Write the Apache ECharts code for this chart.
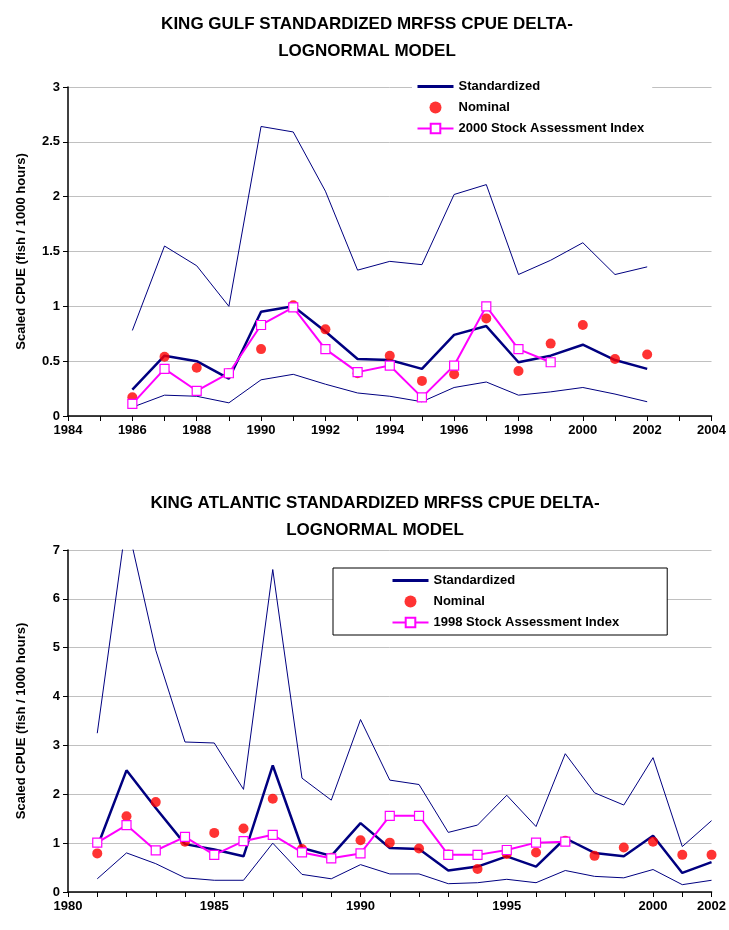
<!DOCTYPE html>
<html>
<head>
<meta charset="utf-8">
<script src="https://cdn.jsdelivr.net/npm/echarts@6/dist/echarts.min.js"></script>
<style>html,body{margin:0;padding:0;background:#fff}#mycharts{width:729px;height:930px}</style>
</head>
<body>
<div id="mycharts"></div>
<script>
// Gulf (top) 1986-2002
var gulfYears = [1986,1987,1988,1989,1990,1991,1992,1993,1994,1995,1996,1997,1998,1999,2000,2001,2002];
var gulfUpper = [0.78,1.55,1.37,1.0,2.64,2.59,2.05,1.33,1.41,1.38,2.02,2.11,1.29,1.42,1.58,1.29,1.36];
var gulfStd = [0.24,0.55,0.50,0.34,0.95,1.0,0.77,0.52,0.51,0.43,0.74,0.82,0.49,0.55,0.65,0.51,0.43];
var gulfLower = [0.08,0.19,0.18,0.12,0.33,0.38,0.29,0.21,0.18,0.13,0.26,0.31,0.19,0.22,0.26,0.20,0.13];
var gulfNominal = [0.17,0.54,0.44,0.39,0.61,1.01,0.79,0.39,0.55,0.32,0.38,0.89,0.41,0.66,0.83,0.52,0.56];
var gulfIndex = [0.11,0.43,0.23,0.39,0.83,0.99,0.61,0.40,0.46,0.17,0.46,1.0,0.61,0.49];

// Atlantic (bottom) 1981-2002
var atlYears = [1981,1982,1983,1984,1985,1986,1987,1988,1989,1990,1991,1992,1993,1994,1995,1996,1997,1998,1999,2000,2001,2002];
var atlUpper = [3.25,7.6,4.95,3.07,3.05,2.1,6.6,2.33,1.88,3.53,2.29,2.2,1.22,1.37,1.98,1.34,2.83,2.03,1.78,2.75,0.93,1.46];
var atlStd = [0.92,2.49,1.72,0.98,0.87,0.73,2.59,0.9,0.74,1.41,0.9,0.88,0.44,0.52,0.73,0.52,1.1,0.8,0.73,1.15,0.39,0.61];
var atlLower = [0.27,0.8,0.58,0.29,0.24,0.24,1.0,0.36,0.27,0.56,0.37,0.37,0.17,0.19,0.26,0.19,0.44,0.32,0.29,0.46,0.15,0.24];
var atlNominal = [0.79,1.55,1.84,1.03,1.21,1.3,1.91,0.88,0.7,1.06,1.01,0.89,0.77,0.47,0.78,0.81,1.05,0.74,0.91,1.03,0.76,0.76];
var atlIndex = [1.01,1.37,0.85,1.13,0.76,1.04,1.17,0.81,0.69,0.79,1.56,1.56,0.76,0.76,0.86,1.01,1.03];

function pairs(years, vals) {
    return vals.map(function (v, i) { return [years[i], v]; });
}

var navy = '#000080';
var font = 'Arial, Liberation Sans, sans-serif';
var txt = { fontFamily: font, fontWeight: 'bold', color: '#000', fontSize: 13 };

function xAxis(idx, min, max, interval) {
    return {
        type: 'value', gridIndex: idx, min: min, max: max, interval: interval,
        axisLine: { lineStyle: { color: '#000', width: 1.5 } },
        axisTick: { show: true, length: 5, lineStyle: { color: '#000' } },
        minorTick: { show: true, splitNumber: interval === 2 ? 2 : 5, length: 5, lineStyle: { color: '#000' } },
        splitLine: { show: false },
        axisLabel: Object.assign({ margin: 8, formatter: function (v) { return String(v); } }, txt)
    };
}
function yAxis(idx, max, interval) {
    return {
        type: 'value', gridIndex: idx, min: 0, max: max, interval: interval,
        name: 'Scaled CPUE (fish / 1000 hours)', nameLocation: 'middle', nameGap: 40,
        nameTextStyle: txt,
        axisLine: { show: true, lineStyle: { color: '#000', width: 1.5 } },
        axisTick: { show: true, length: 5, lineStyle: { color: '#000' } },
        splitLine: { lineStyle: { color: '#c0c0c0' } },
        axisLabel: Object.assign({ margin: 8 }, txt)
    };
}
function band(name, x, y, years, vals) {
    return { name: name, type: 'line', xAxisIndex: x, yAxisIndex: y, data: pairs(years, vals),
        symbol: 'none', lineStyle: { color: navy, width: 1 }, itemStyle: { color: navy }, z: 2 };
}

var stdLegend = { name: 'Standardized', itemStyle: { opacity: 0 }, lineStyle: { color: navy, width: 3, opacity: 1 } };
var titleStyle = { fontFamily: font, fontWeight: 'bold', fontSize: 17, lineHeight: 27, color: '#000' };
var myChart = echarts.init(document.getElementById('mycharts'));
var option = {
    animation: false,
    backgroundColor: '#fff',
    title: [{
        text: 'KING GULF STANDARDIZED MRFSS CPUE DELTA-\nLOGNORMAL MODEL',
        left: 362, textAlign: 'center', top: 6, textStyle: titleStyle
    }, {
        text: 'KING ATLANTIC STANDARDIZED MRFSS CPUE DELTA-\nLOGNORMAL MODEL',
        left: 370, textAlign: 'center', top: 485, textStyle: titleStyle
    }],
    legend: [{
        orient: 'vertical', left: 412, top: 78, itemGap: 8, itemWidth: 36, itemHeight: 12,
        backgroundColor: '#fff', padding: [2, 8, 2, 4],
        textStyle: txt,
        data: [
            stdLegend,
            { name: 'Nominal', icon: 'circle' },
            { name: '2000 Stock Assessment Index' }
        ]
    }, {
        orient: 'vertical', left: 333, top: 568, itemGap: 8, itemWidth: 36, itemHeight: 12,
        backgroundColor: '#fff', borderColor: '#000', borderWidth: 1, padding: [6, 48, 6, 58],
        textStyle: txt,
        data: [
            stdLegend,
            { name: 'Nominal', icon: 'circle' },
            { name: '1998 Stock Assessment Index' }
        ]
    }],
    grid: [
        { left: 68, width: 644, top: 87, height: 329 },
        { left: 68, width: 654, top: 550, height: 342 }
    ],
    xAxis: [xAxis(0, 1984, 2004, 2), xAxis(1, 1980, 2002, 5)],
    yAxis: [yAxis(0, 3, 0.5), yAxis(1, 7, 1)],
    series: [
        band('upperG', 0, 0, gulfYears, gulfUpper),
        band('lowerG', 0, 0, gulfYears, gulfLower),
        { name: 'Standardized', type: 'line', xAxisIndex: 0, yAxisIndex: 0, data: pairs(gulfYears, gulfStd),
          symbol: 'none', lineStyle: { color: navy, width: 2.5 }, itemStyle: { color: navy }, z: 3 },
        { name: 'Nominal', type: 'scatter', xAxisIndex: 0, yAxisIndex: 0, data: pairs(gulfYears, gulfNominal),
          symbol: 'circle', symbolSize: 10, itemStyle: { color: '#ff0000' }, z: 4 },
        { name: '2000 Stock Assessment Index', type: 'line', xAxisIndex: 0, yAxisIndex: 0, data: pairs(gulfYears, gulfIndex),
          symbol: 'rect', symbolSize: 9, lineStyle: { color: '#ff00ff', width: 2 },
          itemStyle: { color: '#fff', borderColor: '#ff00ff', borderWidth: 1.2 }, z: 5 },

        band('upperA', 1, 1, atlYears, atlUpper),
        band('lowerA', 1, 1, atlYears, atlLower),
        { name: 'Standardized', type: 'line', xAxisIndex: 1, yAxisIndex: 1, data: pairs(atlYears, atlStd),
          symbol: 'none', lineStyle: { color: navy, width: 2.5 }, itemStyle: { color: navy }, z: 3 },
        { name: 'Nominal', type: 'scatter', xAxisIndex: 1, yAxisIndex: 1, data: pairs(atlYears, atlNominal),
          symbol: 'circle', symbolSize: 10, itemStyle: { color: '#ff0000' }, z: 4 },
        { name: '1998 Stock Assessment Index', type: 'line', xAxisIndex: 1, yAxisIndex: 1, data: pairs(atlYears, atlIndex),
          symbol: 'rect', symbolSize: 9, lineStyle: { color: '#ff00ff', width: 2 },
          itemStyle: { color: '#fff', borderColor: '#ff00ff', borderWidth: 1.2 }, z: 5 }
    ]
};
myChart.setOption(option);
</script>
</body>
</html>
